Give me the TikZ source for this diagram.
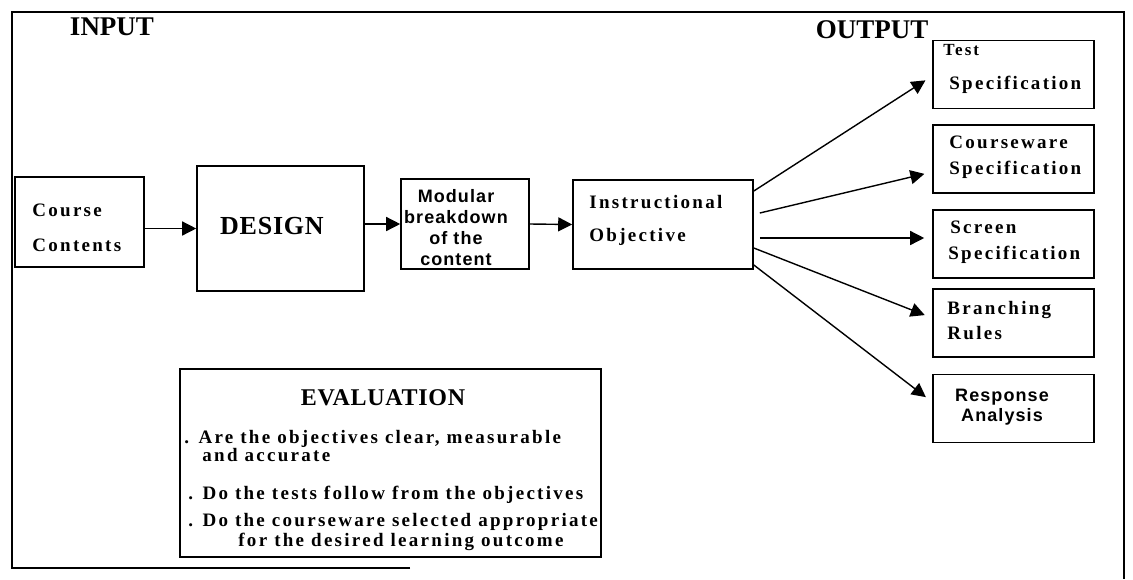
\documentclass[tikz,border=0pt]{standalone}
\usepackage{fontspec}
\setmainfont{Liberation Serif}
\newfontfamily\boxserif[LetterSpace=12]{Liberation Serif}
\newfontfamily\boxsans[LetterSpace=6]{Liberation Sans}
\newfontfamily\headserif[LetterSpace=3]{Liberation Serif}
\usetikzlibrary{arrows.meta}

\begin{document}
\begin{tikzpicture}[x=0.5pt,y=-0.5pt,
  box/.style={draw, line width=0.8pt, inner sep=0pt},
  outbox/.style={box, minimum width=80.5pt, minimum height=34pt},
  txt/.style={inner sep=0pt, anchor=west, font={\fontsize{9.5}{11}\selectfont\boxserif\bfseries}},
  sanstxt/.style={inner sep=0pt, align=center, font={\fontsize{9}{10.5}\selectfont\boxsans\bfseries}},
  head/.style={inner sep=0pt, font={\fontsize{13.5}{16}\selectfont\bfseries}},
  arr/.style={line width=0.7pt, -{Triangle[length=7pt,width=7pt]}}]
  \useasboundingbox (0,0) rectangle (1133,579);

  % Frame
  \draw[line width=0.6pt] (410,568) -- (12,568) -- (12,12) -- (1124,12) -- (1124,579);

  % Headings
  \node[head] (input) at (112,27) {INPUT};
  \node[head] (output) at (872,30) {OUTPUT};

  % Boxes
  \node[box, minimum width=64.5pt, minimum height=45pt] (course) at (79.5,222) {};
  \node[box, minimum width=83.5pt, minimum height=62.5pt] (design) at (280.5,228.5) {};
  \node[box, minimum width=64pt, minimum height=45pt] (modular) at (465,224) {};
  \node[box, minimum width=90pt, minimum height=44.5pt] (objective) at (663,224.5) {};

  \node[outbox] (test) at (1013.5,74.5) {};
  \node[outbox] (courseware) at (1013.5,159) {};
  \node[outbox] (screen) at (1013.5,244) {};
  \node[outbox] (branching) at (1013.5,323) {};
  \node[outbox] (response) at (1013.5,408.5) {};

  \node[box, minimum width=210.5pt, minimum height=94pt] (evaluation) at (390.5,463) {};

  % Box texts
  \node[txt] (coursetxt) at (32,210) {Course};
  \node[txt] (contentstxt) at (32,245) {Contents};
  \node[inner sep=0pt, font={\fontsize{13}{16}\selectfont\headserif\bfseries}] (designtxt) at (272,226) {DESIGN};
  \node[sanstxt] (modulartxt) at (456,228) {Modular\\breakdown\\of the\\content};
  \node[txt] (instrtxt) at (589,202) {Instructional};
  \node[txt] (objtxt) at (589,237) {Objective};

  \node[txt, font={\fontsize{8.5}{10}\selectfont\boxserif\bfseries}] (testtxt) at (943,50) {Test};
  \node[txt] (testspec) at (949,85) {Specification};
  \node[txt] (cwtxt) at (949,142) {Courseware};
  \node[txt] (cwspec) at (949,170) {Specification};
  \node[txt] (screentxt) at (950,227) {Screen};
  \node[txt] (screenspec) at (948,255) {Specification};
  \node[txt] (branchtxt) at (947,310) {Branching};
  \node[txt] (rulestxt) at (947,333) {Rules};
  \node[sanstxt, font={\fontsize{9}{10}\selectfont\boxsans\bfseries}] (resptxt) at (1002,407) {Response\\Analysis};

  % Evaluation
  \node[inner sep=0pt, font={\fontsize{12}{14}\selectfont\headserif\bfseries}] (evaltitle) at (383,398) {EVALUATION};
  \node[txt] (eval1) at (184,439) {. Are the objectives clear, measurable};
  \node[txt] (eval2) at (202,455) {and accurate};
  \node[txt] (eval3) at (188,495) {. Do the tests follow from the objectives};
  \node[txt] (eval4) at (188,522) {. Do the courseware selected appropriate};
  \node[txt] (eval5) at (238,542) {for the desired learning outcome};

  % Arrows
  \draw[arr] (course.east |- design.west) -- (design.west);
  \draw[arr] (design.east |- modular.west) -- (modular.west);
  \draw[arr] (modular.east) -- (objective.west);

  \draw[arr, shorten >=4pt] ([yshift=16.75pt]objective.east) -- ([yshift=-0.75pt]test.west);
  \draw[arr, shorten >=4pt] ([xshift=3pt,yshift=5.75pt]objective.east) -- ([yshift=-6.5pt]courseware.west);
  \draw[arr, shorten >=4pt] ([xshift=3pt,yshift=-6.75pt]objective.east) -- ([yshift=3pt]screen.west);
  \draw[arr, shorten >=4pt] ([yshift=-11.75pt]objective.east) -- ([yshift=2.5pt]branching.west);
  \draw[arr, shorten >=4pt] ([yshift=-20.25pt]objective.east) -- ([yshift=3.25pt]response.west);

\end{tikzpicture}
\end{document}
